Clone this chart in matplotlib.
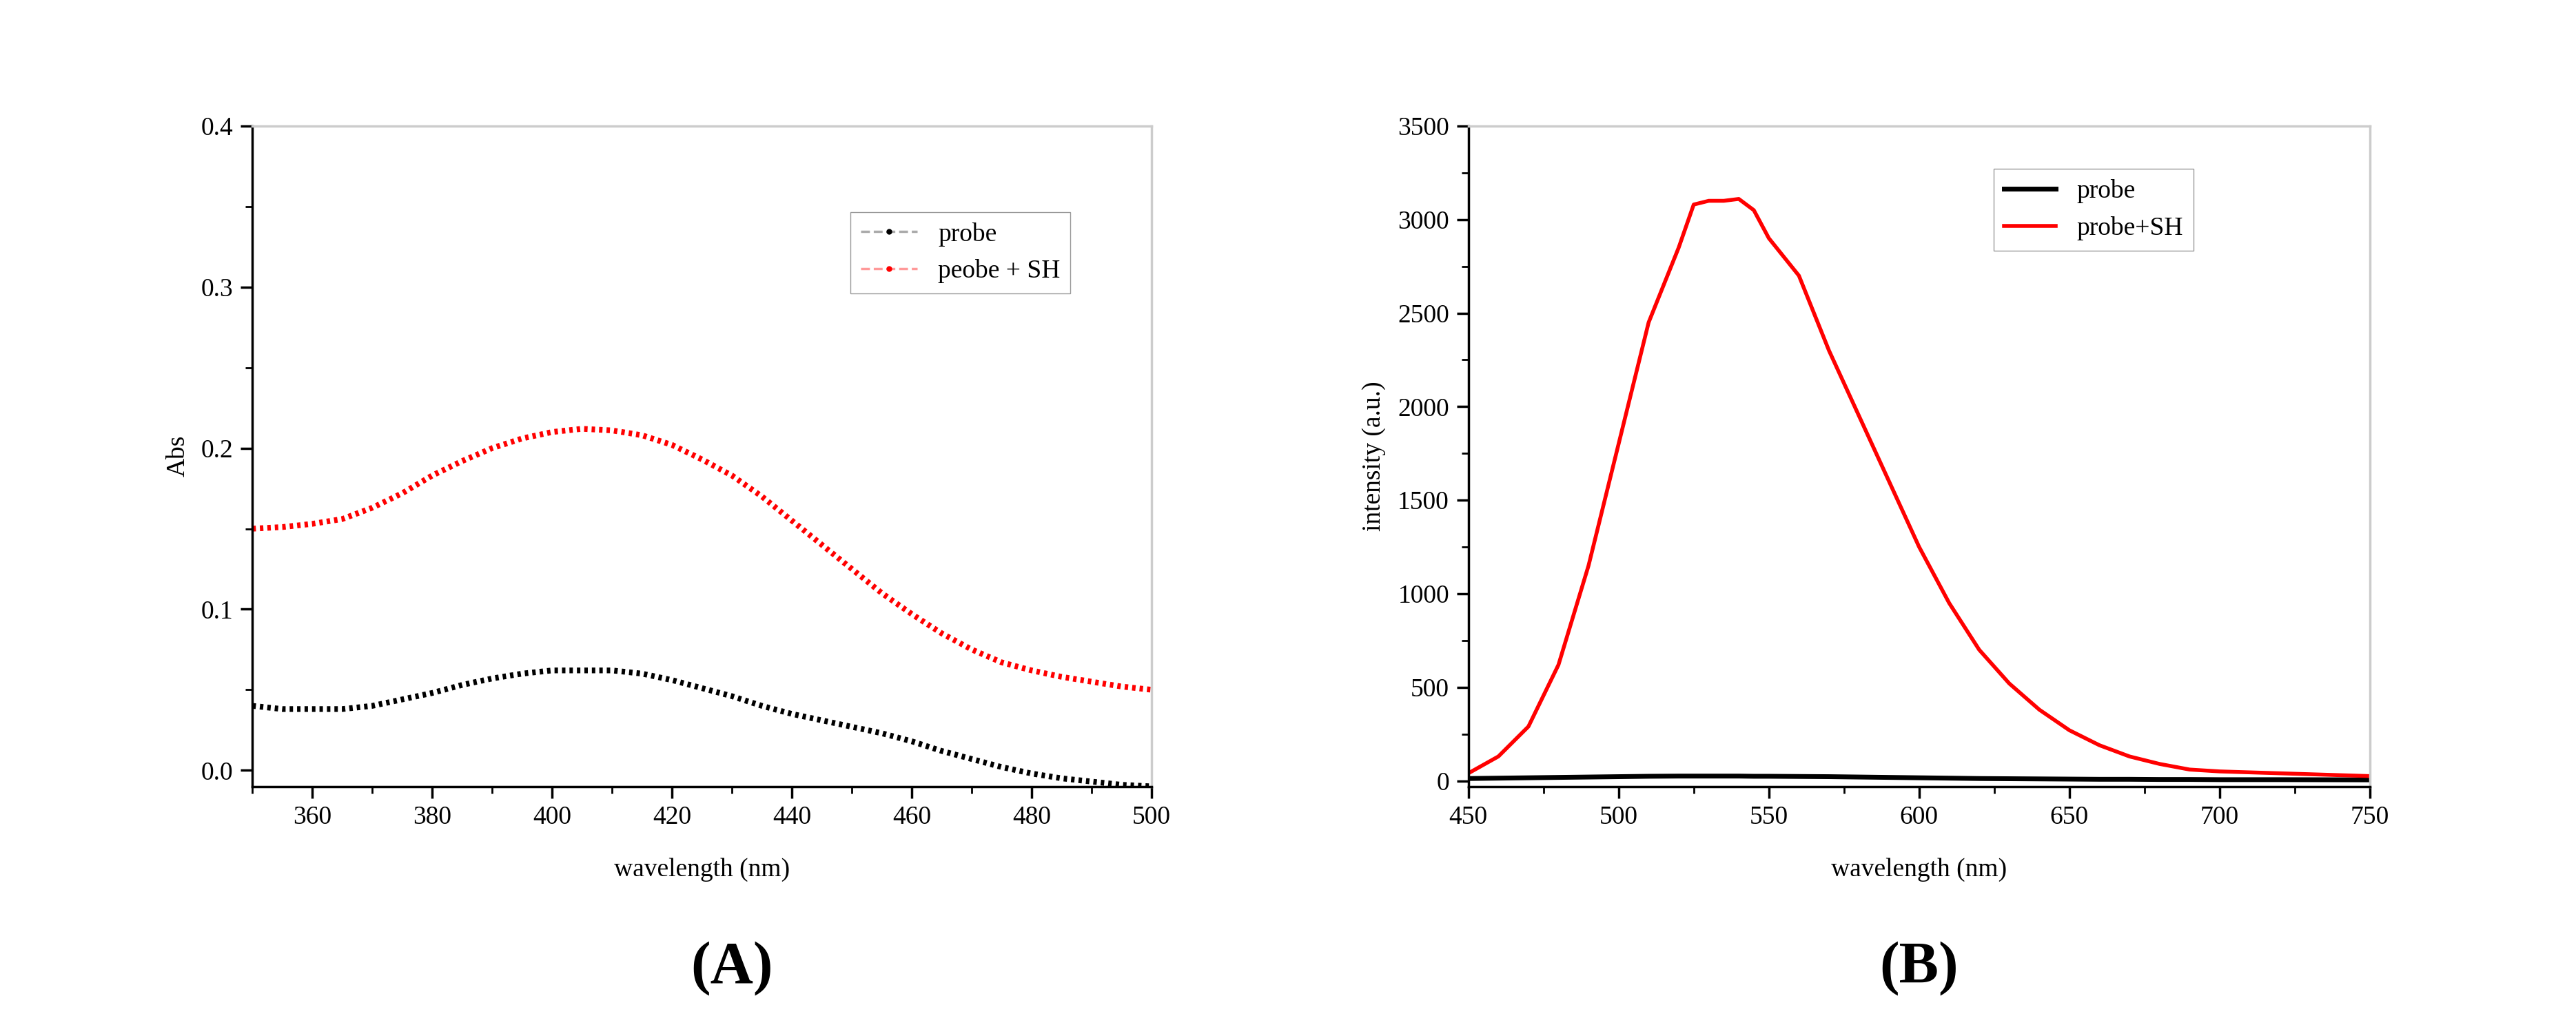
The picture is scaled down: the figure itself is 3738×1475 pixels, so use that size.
import numpy as np
import matplotlib.pyplot as plt
from matplotlib.lines import Line2D
from matplotlib.ticker import AutoMinorLocator

plt.rcParams["font.family"] = ["Liberation Serif", "DejaVu Serif"]

# panel A: absorption
wl_a = [350, 355, 360, 365, 370, 375, 380, 385, 390, 395, 400, 405, 410, 415, 420,
        425, 430, 435, 440, 445, 450, 455, 460, 465, 470, 475, 480, 485, 490, 495, 500]
abs_probe = [0.040, 0.038, 0.038, 0.038, 0.040, 0.044, 0.048, 0.053, 0.057, 0.060, 0.062,
             0.062, 0.062, 0.060, 0.056, 0.051, 0.046, 0.040, 0.035, 0.031, 0.027, 0.023,
             0.018, 0.012, 0.007, 0.002, -0.002, -0.005, -0.007, -0.009, -0.010]
abs_sh = [0.150, 0.151, 0.153, 0.156, 0.163, 0.172, 0.183, 0.192, 0.200, 0.206, 0.210,
          0.212, 0.211, 0.208, 0.202, 0.193, 0.183, 0.170, 0.155, 0.140, 0.125, 0.110,
          0.097, 0.085, 0.075, 0.067, 0.062, 0.058, 0.055, 0.052, 0.050]

# panel B: fluorescence
wl_b = [450, 460, 470, 480, 490, 500, 510, 520, 525, 530, 535, 540, 545, 550, 560, 570,
        580, 590, 600, 610, 620, 630, 640, 650, 660, 670, 680, 690, 700, 720, 750]
fl_sh = [40, 130, 290, 620, 1150, 1800, 2450, 2850, 3080, 3100, 3100, 3110, 3050, 2900,
         2700, 2300, 1950, 1600, 1250, 950, 700, 520, 380, 270, 190, 130, 90, 60, 50, 40, 25]
fl_probe = [12, 14, 16, 18, 20, 22, 24, 25, 25, 25, 25, 25, 24, 24, 23, 22,
            20, 18, 16, 14, 12, 11, 10, 9, 8, 8, 7, 7, 6, 6, 5]

fig = plt.figure(figsize=(37.38, 14.75), dpi=100)
fs = 27

ax1 = fig.add_axes([0.098, 0.226, 0.349, 0.65])
ax1.plot(wl_a, abs_probe, color="black", ls=(0, (0.6, 0.7)), lw=6)
ax1.plot(wl_a, abs_sh, color="red", ls=(0, (0.6, 0.7)), lw=6)
ax1.set_xlim(350, 500)
ax1.set_ylim(-0.01, 0.4)
ax1.set_xticks([360, 380, 400, 420, 440, 460, 480, 500])
ax1.set_yticks([0.0, 0.1, 0.2, 0.3, 0.4])
ax1.set_yticklabels(["0.0", "0.1", "0.2", "0.3", "0.4"])
ax1.set_xlabel("wavelength (nm)", fontsize=fs, labelpad=30)
ax1.set_ylabel("Abs", fontsize=fs, labelpad=12)
handles = [Line2D([], [], color="#aaaaaa", ls="--", marker=".", mfc="black", mec="black", ms=10, lw=2.5),
           Line2D([], [], color="#ff9999", ls="--", marker=".", mfc="red", mec="red", ms=10, lw=2.5)]
ax1.legend(handles, ["probe", "peobe + SH"], loc="upper right", bbox_to_anchor=(0.91, 0.87),
           fontsize=fs, fancybox=False, edgecolor="gray", handlelength=2.2, borderaxespad=0)

ax2 = fig.add_axes([0.570, 0.226, 0.350, 0.65])
ax2.plot(wl_b, fl_probe, color="black", lw=5)
ax2.plot(wl_b, fl_sh, color="red", lw=4)
ax2.set_xlim(450, 750)
ax2.set_ylim(-30, 3500)
ax2.set_xticks(range(450, 751, 50))
ax2.set_yticks(range(0, 3501, 500))
ax2.set_xlabel("wavelength (nm)", fontsize=fs, labelpad=30)
ax2.set_ylabel("intensity (a.u.)", fontsize=fs, labelpad=12)
ax2.legend(["probe", "probe+SH"], loc="upper left", bbox_to_anchor=(0.583, 0.935),
           fontsize=fs, fancybox=False, edgecolor="gray", handlelength=2.0, borderaxespad=0)

for ax in (ax1, ax2):
    ax.tick_params(labelsize=fs, direction="out", length=12, width=2.5, pad=8)
    ax.xaxis.set_minor_locator(AutoMinorLocator(2))
    ax.yaxis.set_minor_locator(AutoMinorLocator(2))
    ax.tick_params(which="minor", length=7, width=2)
    ax.spines["left"].set_linewidth(2.5)
    ax.spines["bottom"].set_linewidth(2.5)
    for side in ("top", "right"):
        ax.spines[side].set_color("#cccccc")
        ax.spines[side].set_linewidth(2.5)

fig.text(0.284, 0.033, "(A)", fontsize=62, fontweight="bold", ha="center")
fig.text(0.745, 0.033, "(B)", fontsize=62, fontweight="bold", ha="center")

fig.savefig("out.png", dpi=100)
